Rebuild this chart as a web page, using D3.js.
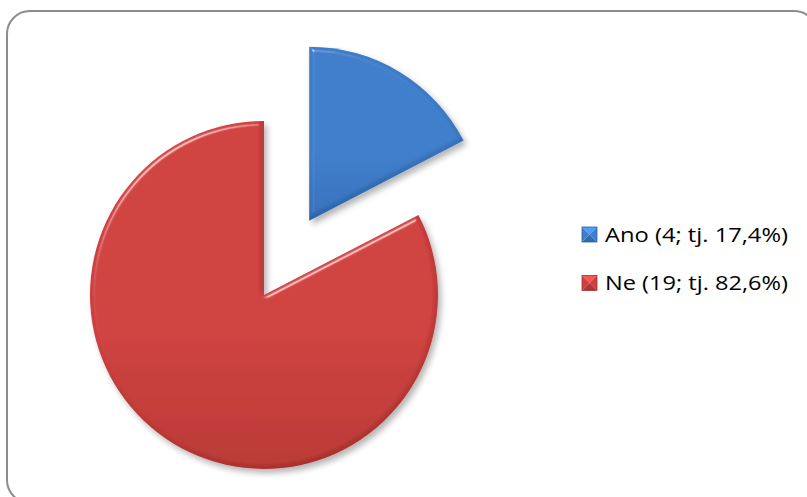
<!DOCTYPE html>
<html>
<head>
<meta charset="utf-8">
<script src="https://cdn.jsdelivr.net/npm/d3@7"></script>
<style>
  html, body { margin: 0; padding: 0; background: #fff; }
  svg { display: block; }
</style>
</head>
<body>
<svg id="chart" width="807" height="497"></svg>
<script>
// Survey answers
const categories = ["Ano", "Ne"];
const values = [4, 19];
const colors = ["#3e7ecb", "#cf413f"];
const darkColors = ["#3470bb", "#b93833"];
const explodeFlags = [true, false];

const svg = d3.select("#chart");
const defs = svg.append("defs");

// Bevel (edge highlight / edge shade) + soft shadow applied to each slice
const f = defs.append("filter").attr("id", "bevel")
  .attr("x", "-10%").attr("y", "-10%").attr("width", "125%").attr("height", "125%");
f.append("feGaussianBlur").attr("in", "SourceAlpha").attr("stdDeviation", 2.2).attr("result", "blur");
const spec = f.append("feSpecularLighting").attr("in", "blur").attr("surfaceScale", 5)
  .attr("specularConstant", 0.9).attr("specularExponent", 30)
  .attr("lighting-color", "#ffffff").attr("result", "spec");
spec.append("feDistantLight").attr("azimuth", 235).attr("elevation", 28);
f.append("feComposite").attr("in", "spec").attr("in2", "SourceAlpha").attr("operator", "in").attr("result", "specIn");
// dark rim: inverse-offset blur inside the shape
f.append("feOffset").attr("in", "blur").attr("dx", -2).attr("dy", -2).attr("result", "boff");
f.append("feComposite").attr("in", "SourceAlpha").attr("in2", "boff").attr("operator", "out").attr("result", "rim");
f.append("feGaussianBlur").attr("in", "rim").attr("stdDeviation", 1).attr("result", "rimBlur");
f.append("feComposite").attr("in", "rimBlur").attr("in2", "SourceAlpha").attr("operator", "in").attr("result", "rimIn");
f.append("feComponentTransfer").attr("in", "rimIn").attr("result", "rimDark")
  .append("feFuncA").attr("type", "linear").attr("slope", 0.35);
f.append("feComposite").attr("in", "SourceGraphic").attr("in2", "specIn")
  .attr("operator", "arithmetic").attr("k1", 0).attr("k2", 1).attr("k3", 0.6).attr("k4", 0).attr("result", "lit");
f.append("feGaussianBlur").attr("in", "SourceAlpha").attr("stdDeviation", 3).attr("result", "sblur");
f.append("feOffset").attr("in", "sblur").attr("dx", 3).attr("dy", 4).attr("result", "soff");
f.append("feComponentTransfer").attr("in", "soff").attr("result", "shadow")
  .append("feFuncA").attr("type", "linear").attr("slope", 0.3);
const m = f.append("feMerge");
m.append("feMergeNode").attr("in", "shadow");
m.append("feMergeNode").attr("in", "lit");
m.append("feMergeNode").attr("in", "rimDark");

// Slice fills: slightly darker toward the bottom
categories.forEach((c, i) => {
  const g = defs.append("linearGradient").attr("id", "grad" + i)
    .attr("x1", 0).attr("y1", 0).attr("x2", 0).attr("y2", 1);
  g.append("stop").attr("offset", "0%").attr("stop-color", colors[i]);
  g.append("stop").attr("offset", "60%").attr("stop-color", colors[i]);
  g.append("stop").attr("offset", "100%").attr("stop-color", darkColors[i]);
});

// Rounded chart frame
svg.append("rect")
  .attr("x", 7).attr("y", 11).attr("width", 810).attr("height", 492)
  .attr("rx", 23).attr("ry", 23)
  .attr("fill", "#fff").attr("stroke", "#8c8c8c").attr("stroke-width", 2);

const cx = 264, cy = 295, radius = 174, explode = 87;

const pie = d3.pie().sort(null).value(d => d);
const arc = d3.arc().innerRadius(0).outerRadius(radius);
const arcs = pie(values);

const slices = svg.append("g").attr("transform", `translate(${cx},${cy})`);
slices.selectAll("path")
  .data(arcs)
  .join("path")
  .attr("d", arc)
  .attr("fill", (d, i) => `url(#grad${i})`)
  .attr("filter", "url(#bevel)")
  .attr("transform", (d, i) => {
    if (!explodeFlags[i]) return null;
    const a = (d.startAngle + d.endAngle) / 2;
    return `translate(${explode * Math.sin(a)},${-explode * Math.cos(a)})`;
  });

// Legend
const total = d3.sum(values);
const fmtPct = v => d3.format(".1f")(v * 100).replace(".", ",") + "%";
const legendLabels = categories.map((c, i) => `${c} (${values[i]}; tj. ${fmtPct(values[i] / total)})`);

const legend = svg.append("g");
const rows = legend.selectAll("g")
  .data(categories)
  .join("g")
  .attr("transform", (d, i) => `translate(582,${227 + i * 48.5})`);

// Beveled legend markers: square split into four shaded triangles
const s = 15;
rows.each(function(d, i) {
  const g = d3.select(this);
  const c = d3.color(colors[i]);
  const tris = [
    { p: [[0,0],[s,0],[s/2,s/2]], col: c.brighter(0.6) },
    { p: [[s,0],[s,s],[s/2,s/2]], col: c },
    { p: [[0,s],[s,s],[s/2,s/2]], col: c.darker(0.5) },
    { p: [[0,0],[0,s],[s/2,s/2]], col: c }
  ];
  tris.forEach(t => g.append("path")
    .attr("d", d3.line()(t.p) + "Z")
    .attr("fill", t.col.formatHex()));
  g.append("rect").attr("width", s).attr("height", s)
    .attr("fill", "none").attr("stroke", c.darker(0.7).formatHex()).attr("stroke-width", 0.8);
});

rows.append("text")
  .attr("x", 23).attr("y", 14.5)
  .attr("font-family", "'Open Sans', Lato, sans-serif")
  .attr("font-size", 20)
  .attr("fill", "#000")
  .attr("textLength", 183)
  .attr("lengthAdjust", "spacingAndGlyphs")
  .text((d, i) => legendLabels[i]);
</script>
</body>
</html>
